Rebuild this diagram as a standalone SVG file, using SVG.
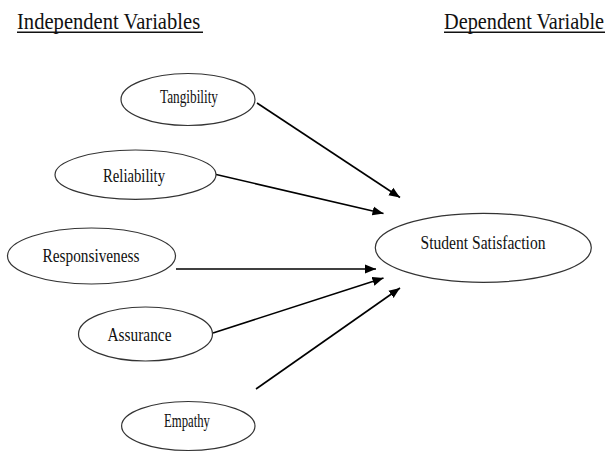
<svg xmlns="http://www.w3.org/2000/svg" width="611" height="453" viewBox="0 0 611 453">
<defs>
<marker id="arrow" markerUnits="userSpaceOnUse" markerWidth="12" markerHeight="10" refX="11" refY="5" orient="auto">
<path d="M0,0.5 L11,5 L0,9.5 z" fill="#000"/>
</marker>
<style>
.node ellipse{fill:#fff;stroke:#333;stroke-width:1.2}
.lbl{font-family:"Liberation Serif","Times New Roman",serif;font-size:19px;fill:#111;text-anchor:middle}
.hdr{font-family:"Liberation Serif","Times New Roman",serif;font-size:24px;fill:#111}
.ul{stroke:#111;stroke-width:1.6}
.conn line{stroke:#000;stroke-width:1.6;marker-end:url(#arrow)}
</style>
</defs>
<rect width="611" height="453" fill="#fff"/>
<g id="headers">
<g transform="translate(17,28.5) scale(0.858,1)"><text class="hdr" x="0" y="0">Independent Variables</text></g>
<line class="ul" x1="17" y1="32.3" x2="203" y2="32.3"/>
<g transform="translate(444,28.5) scale(0.845,1)"><text class="hdr" x="0" y="0">Dependent Variable</text></g>
<line class="ul" x1="444" y1="32.3" x2="605" y2="32.3"/>
</g>
<g class="conn" id="connectors">
<line x1="257" y1="103" x2="400" y2="197.5"/>
<line x1="214" y1="174" x2="383.5" y2="213.5"/>
<line x1="176" y1="269" x2="376" y2="269"/>
<line x1="213" y1="333" x2="383.5" y2="278"/>
<line x1="256" y1="389" x2="400" y2="288"/>
</g>
<g class="node" id="tangibility">
<ellipse cx="188" cy="99.5" rx="67" ry="26"/>
<text class="lbl" x="189" y="102.5" textLength="58" lengthAdjust="spacingAndGlyphs">Tangibility</text>
</g>
<g class="node" id="reliability">
<ellipse cx="135.5" cy="174.7" rx="80.5" ry="24.7"/>
<text class="lbl" x="134" y="182" textLength="62" lengthAdjust="spacingAndGlyphs">Reliability</text>
</g>
<g class="node" id="responsiveness">
<ellipse cx="91.5" cy="256" rx="84" ry="28"/>
<text class="lbl" x="91" y="261.7" textLength="97" lengthAdjust="spacingAndGlyphs">Responsiveness</text>
</g>
<g class="node" id="assurance">
<ellipse cx="145.5" cy="334" rx="67" ry="27"/>
<text class="lbl" x="139.5" y="340.7" textLength="64" lengthAdjust="spacingAndGlyphs">Assurance</text>
</g>
<g class="node" id="empathy">
<ellipse cx="188.3" cy="426" rx="66.7" ry="24.5"/>
<text class="lbl" x="187" y="427" textLength="46" lengthAdjust="spacingAndGlyphs">Empathy</text>
</g>
<g class="node" id="student-satisfaction">
<ellipse cx="483.3" cy="247.8" rx="108" ry="34.5"/>
<text class="lbl" x="483" y="249" textLength="125" lengthAdjust="spacingAndGlyphs">Student Satisfaction</text>
</g>
</svg>
